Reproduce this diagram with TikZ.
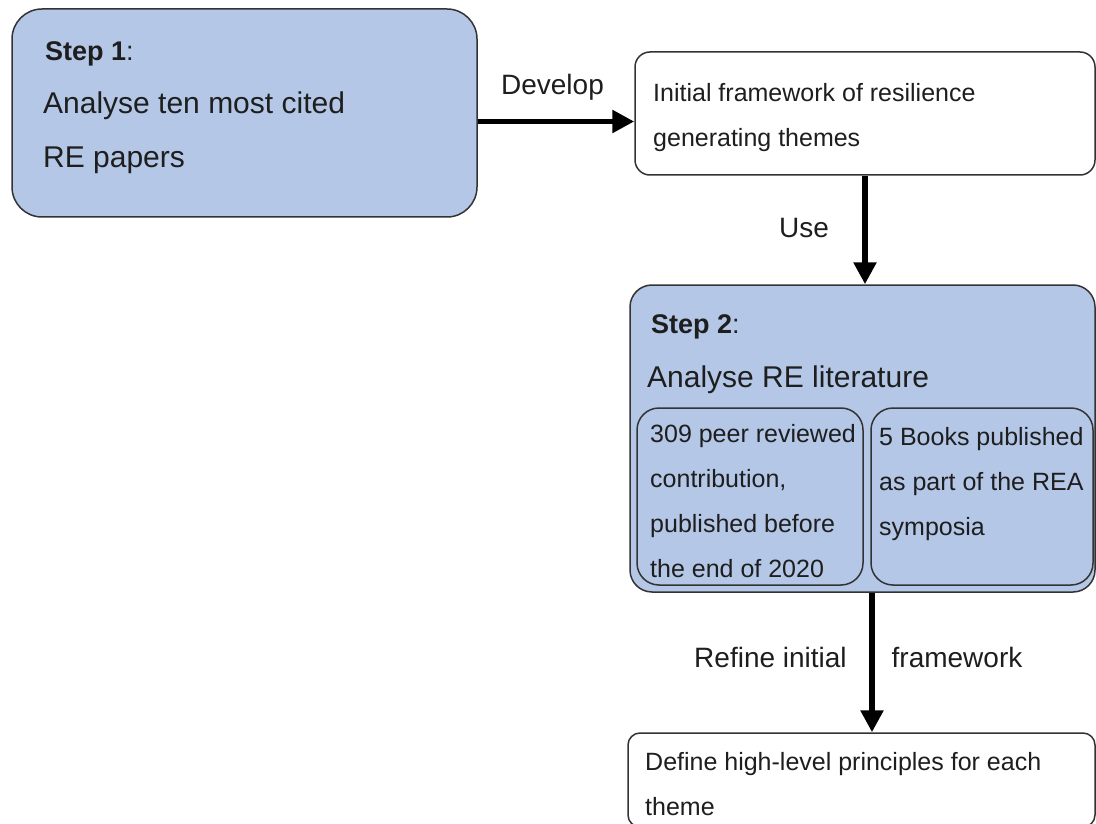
\documentclass[tikz,border=0pt]{standalone}
\usepackage{fontspec}
\setmainfont{Liberation Sans}
\usetikzlibrary{arrows.meta}
\definecolor{stepfill}{HTML}{B4C7E7}
\definecolor{edge}{HTML}{333333}
\definecolor{ink}{HTML}{1E1E1E}
\begin{document}
\begin{tikzpicture}[x=1pt,y=-1pt,
  box/.style={draw=edge, line width=1.5pt, rectangle, inner sep=0pt, fill=white},
  stepbox/.style={box, fill=stepfill},
  conn/.style={line width=5.5pt, -{Triangle[length=22pt,width=22pt]}},
  txt/.style={anchor=base west, inner sep=0pt, text=ink, font=\fontsize{25}{30}\selectfont},
  big/.style={txt, font=\fontsize{30}{35}\selectfont},
  head/.style={txt, font=\fontsize{27}{31}\selectfont},
  lbl/.style={anchor=base, inner sep=0pt, text=ink, font=\fontsize{28}{33}\selectfont}]
\useasboundingbox (0,0) rectangle (1096,824);

% boxes
\node[stepbox, rounded corners=30pt, minimum width=465pt, minimum height=208pt] (s1) at (244.5,113) {};
\node[box, rounded corners=15pt, minimum width=460pt, minimum height=123pt] (ifw) at (865,113.5) {};
\node[stepbox, rounded corners=22pt, minimum width=465pt, minimum height=307pt] (s2) at (862.5,438.5) {};
\node[box, fill=none, rounded corners=22pt, minimum width=226pt, minimum height=177pt] (inL) at (750,496.5) {};
\node[box, fill=none, rounded corners=22pt, minimum width=222pt, minimum height=177pt] (inR) at (982,496.5) {};
\node[box, rounded corners=12pt, minimum width=467pt, minimum height=94pt] (fin) at (861.5,780) {};

% step 1 text
\node[head] (s1h) at (45,60.7) {\textbf{Step 1}:};
\node[big] (s1a) at (43,114) {Analyse ten most cited};
\node[big] (s1b) at (43,168) {RE papers};

% initial framework text
\node[txt] (ifa) at (653,102) {Initial framework of resilience};
\node[txt] (ifb) at (653,147) {generating themes};

% step 2 text
\node[head] (s2h) at (651,333) {\textbf{Step 2}:};
\node[big] (s2a) at (647,387) {Analyse RE literature};

% inner boxes text
\node[txt] (la) at (650,442) {309 peer reviewed};
\node[txt] (lb) at (650,487) {contribution,};
\node[txt] (lc) at (650,532) {published before};
\node[txt] (ld) at (650,577) {the end of 2020};
\node[txt] (ra) at (879,445) {5 Books published};
\node[txt] (rb) at (879,490) {as part of the REA};
\node[txt] (rc) at (879,535) {symposia};

% final box text
\node[txt] (fa) at (645,770) {Define high-level principles for each};
\node[txt] (fb) at (645,815) {theme};

% connectors
\draw[conn] ([yshift=-8.5pt]s1.east) -- ([yshift=-8.5pt]s1.east -| ifw.west);
\draw[conn] (ifw.south) -- (ifw.south |- s2.north);
\draw[conn] ([xshift=9.5pt]s2.south) -- ([xshift=9.5pt]s2.south |- fin.north);

% connector labels
\node[lbl] (ldev) at (552.5,95) {Develop};
\node[lbl] (luse) at (804,237) {Use};
\node[lbl] (lref) at (770.5,667) {Refine initial};
\node[lbl] (lfw) at (957,667) {framework};
\end{tikzpicture}
\end{document}
